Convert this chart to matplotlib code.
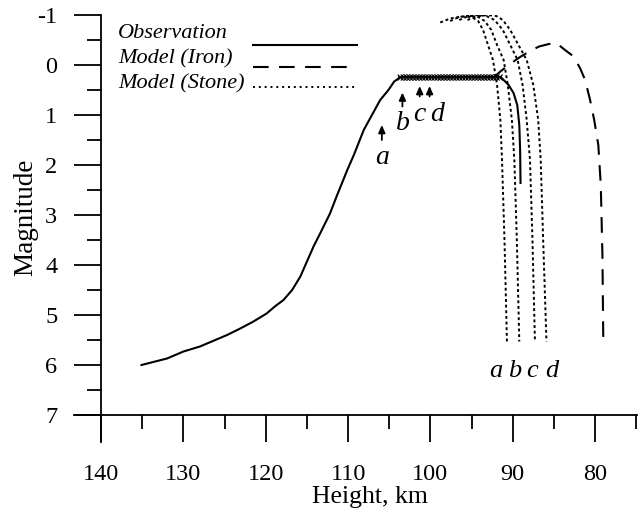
import matplotlib
matplotlib.use("Agg")
import matplotlib.pyplot as plt
from matplotlib import patheffects as pe

plt.rcParams['font.family'] = ['Liberation Serif', 'DejaVu Serif']
plt.rcParams['axes.unicode_minus'] = False

# ---------------- data ----------------
obs_h = [135.1, 132.0, 130.0, 128.0, 124.7, 123.1, 121.5, 119.9, 118.9, 117.85,
         116.8, 115.8, 115.0, 114.2, 113.4, 112.2, 111.4, 110.1, 109.3, 108.1,
         107.1, 106.1, 105.1, 104.4, 103.8]
obs_m = [6.00, 5.87, 5.73, 5.63, 5.40, 5.27, 5.13, 4.97, 4.83, 4.70,
         4.50, 4.23, 3.93, 3.63, 3.37, 2.97, 2.63, 2.10, 1.80, 1.30,
         1.00, 0.70, 0.50, 0.33, 0.26]

plateau_h = [103.8, 91.4]
plateau_m = [0.25, 0.25]

obs_end_h = [91.4, 90.5, 89.9, 89.45, 89.2, 89.1, 89.05]
obs_end_m = [0.25, 0.40, 0.56, 0.80, 1.20, 1.70, 2.36]

iron_h = [92.4, 91.5, 90.5, 89.2, 88.0, 86.8, 85.6, 84.7, 83.8, 82.6,
          81.8, 81.2, 80.6, 80.1, 79.6, 79.3, 79.1, 79.0]
iron_m = [0.26, 0.13, 0.00, -0.15, -0.27, -0.37, -0.42, -0.44, -0.32, -0.17,
          0.07, 0.30, 0.70, 1.10, 1.60, 2.40, 3.80, 5.46]

stone_a_h = [98.8, 97.6, 96.2, 95.0, 94.2, 93.6, 93.0, 92.4, 91.9, 91.5, 91.3, 91.0, 90.7]
stone_a_m = [-0.85, -0.93, -0.97, -0.96, -0.88, -0.70, -0.40, -0.10, 0.40, 1.10, 1.90, 3.50, 5.53]
stone_b_h = [97.6, 96.5, 95.3, 94.2, 93.4, 92.6, 91.9, 91.1, 90.6, 90.1, 89.8, 89.5, 89.2]
stone_b_m = [-0.88, -0.96, -0.99, -0.96, -0.88, -0.70, -0.40, -0.10, 0.40, 1.10, 1.90, 3.50, 5.53]
stone_c_h = [96.5, 95.5, 94.2, 93.2, 92.2, 91.2, 90.3, 89.4, 88.8, 88.3, 87.9, 87.6, 87.3]
stone_c_m = [-0.90, -0.97, -1.00, -0.98, -0.90, -0.70, -0.40, -0.10, 0.40, 1.10, 1.90, 3.50, 5.53]
stone_d_h = [95.5, 94.5, 93.0, 92.0, 91.2, 90.3, 89.3, 88.3, 87.5, 86.9, 86.6, 86.3, 85.9]
stone_d_m = [-0.90, -0.97, -1.00, -0.98, -0.90, -0.70, -0.40, -0.10, 0.40, 1.10, 1.90, 3.50, 5.53]

arrow_labels = ['a', 'b', 'c', 'd']
arrow_h = [105.9, 103.4, 101.3, 100.1]
arrow_tail_m = [1.50, 0.83, 0.63, 0.63]
arrow_head_m = [1.20, 0.55, 0.42, 0.42]
arrow_lab_h = [105.9, 103.4, 101.4, 99.2]
arrow_lab_m = [1.85, 1.17, 1.00, 1.00]

end_lab_h = [92.0, 89.8, 87.6, 85.3]
end_lab_m = [6.13, 6.13, 6.13, 6.13]

legend_labels = ['Observation', 'Model (Iron)', 'Model (Stone)']

x_major = [140, 130, 120, 110, 100, 90, 80]
x_minor = [135, 125, 115, 105, 95, 85, 75]
y_major = [-1, 0, 1, 2, 3, 4, 5, 6, 7]
y_major_labels = ['-1', '0', '1', '2', '3', '4', '5', '6', '7']
y_minor = [-0.5, 0.5, 1.5, 2.5, 3.5, 4.5, 5.5, 6.5]

# ---------------- figure ----------------
W, H = 638, 513
AX_L, AX_R, AX_T, AX_B = 74, 637, 15, 442
fig = plt.figure(figsize=(W / 100, H / 100), dpi=100)
ax = fig.add_axes([AX_L / W, 1 - AX_B / H, (AX_R - AX_L) / W, (AX_B - AX_T) / H])
ax.set_xlim(143.3, 74.9)
ax.set_ylim(7.54, -1)


def axfrac(px, py):
    return (px - AX_L) / (AX_R - AX_L), (AX_B - py) / (AX_B - AX_T)


for s in ['top', 'right']:
    ax.spines[s].set_visible(False)
ax.spines['left'].set_position(('data', 140))
ax.spines['bottom'].set_position(('data', 7))
for s in ['left', 'bottom']:
    ax.spines[s].set_linewidth(1.3)

ax.set_xticks(x_major)
ax.set_xticks(x_minor, minor=True)
ax.set_yticks(y_major)
ax.set_yticklabels(y_major_labels)
ax.set_yticks(y_minor, minor=True)
ax.tick_params(which='major', direction='out', length=19.5, width=1.3, labelsize=17.5)
ax.tick_params(which='minor', direction='out', length=10, width=1.3)
ax.tick_params(axis='y', which='major', pad=12)
ax.tick_params(axis='x', which='major', pad=16)

ax.set_xlabel('Height, km', fontsize=18.5)
ax.set_ylabel('Magnitude', fontsize=19.5)
ax.xaxis.set_label_coords(*axfrac(370, 486))
ax.yaxis.set_label_coords(*axfrac(38, 217))

lw = 1.5
ax.plot(obs_h, obs_m, color='k', lw=lw)
ax.plot(obs_end_h, obs_end_m, color='k', lw=lw)
ticks = [pe.TickedStroke(angle=a, spacing=2.2, length=1.2, linewidth=0.8)
         for a in (45, 135, -45, -135)]
ax.plot(plateau_h, plateau_m, color='k', lw=1.3, path_effects=ticks + [pe.Normal()])

iron_style = dict(color='k', lw=lw, linestyle=(0, (7.5, 5)))
stone_style = dict(color='k', lw=1.4, linestyle=(0, (1.5, 1.4)))
ax.plot(iron_h, iron_m, **iron_style)
ax.plot(stone_a_h, stone_a_m, **stone_style)
ax.plot(stone_b_h, stone_b_m, **stone_style)
ax.plot(stone_c_h, stone_c_m, **stone_style)
ax.plot(stone_d_h, stone_d_m, **stone_style)

for lab, h, mt, mh, lh, lm in zip(arrow_labels, arrow_h, arrow_tail_m, arrow_head_m,
                                   arrow_lab_h, arrow_lab_m):
    ax.annotate('', xy=(h, mh), xytext=(h, mt),
                arrowprops=dict(arrowstyle='-|>,head_length=0.45,head_width=0.2',
                                color='k', lw=1.3, shrinkA=0, shrinkB=0))
    ax.text(lh, lm, lab, fontsize=20, style='italic', ha='center', va='center')

for lab, h, m in zip(arrow_labels, end_lab_h, end_lab_m):
    ax.text(h, m, lab, fontsize=19, style='italic', ha='center', va='center')

# legend (text left, line sample right)
legend_styles = [dict(color='k', lw=lw), iron_style,
                 dict(color='k', lw=1.4, linestyle=(0, (1.0, 2.0)))]
text_y = [33, 59, 84]
line_y = [45, 67, 87]
for lab, st, ty, ly in zip(legend_labels, legend_styles, text_y, line_y):
    tx, tyf = axfrac(118, ty)
    ax.text(tx, tyf, lab, transform=ax.transAxes, fontsize=16, style='italic',
            ha='left', va='center')
    x0, yl = axfrac(253, ly)
    x1, _ = axfrac(357, ly)
    ax.plot([x0, x1], [yl, yl], transform=ax.transAxes, clip_on=False, **st)

fig.savefig('out.png', dpi=100)
